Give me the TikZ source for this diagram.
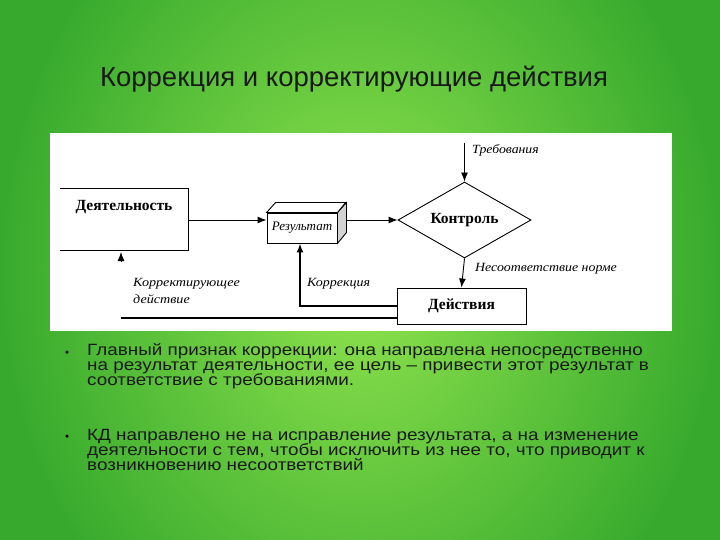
\documentclass[tikz,border=0pt]{standalone}
\usepackage{fontspec}
\usepackage{graphicx}
\setmainfont{Liberation Serif}
\newfontfamily\arialf{Liberation Sans}
\usetikzlibrary{arrows.meta,shapes.geometric,calc}
\definecolor{bgin}{RGB}{145,228,78}
\definecolor{bgout}{RGB}{55,170,45}
\begin{document}
\begin{tikzpicture}[x=1pt,y=-1pt,
  arr/.style={-{Latex[length=9pt,width=7pt]}, line width=0.9pt},
  ln/.style={line width=0.9pt},
  lbl/.style={font=\itshape\fontsize{12.5}{12.5}\selectfont, inner sep=0pt, anchor=base west},
  boldtxt/.style={font=\bfseries\fontsize{15.5}{15.5}\selectfont, inner sep=0pt},
  bul/.style={font=\arialf\fontsize{16.3}{16.3}\selectfont, anchor=base west, inner sep=0pt, text=black!90},
  dot/.style={circle, fill=black, inner sep=0pt, minimum size=3.5pt}]
\useasboundingbox (0,0) rectangle (720,540);
\begin{scope}
\clip (0,0) rectangle (720,540);
\shade[inner color=bgin, outer color=bgout] (0,-170) rectangle (720,710);
\end{scope}
\fill[white] (50,133) rectangle (672,331);

% title
\node[font=\arialf\fontsize{27.5}{27.5}\selectfont, anchor=base, inner sep=0pt, text=black!90] (title) at (354,87) {Коррекция и корректирующие действия};

% Деятельность
\node[minimum width=128pt, minimum height=61pt, inner sep=0pt] (act) at (124,219.5) {};
\draw[ln] (act.north west) -- (act.north east) -- (act.south east) -- (act.south west);
\node[boldtxt] (acttxt) at (124,207) {Деятельность};

% Результат
\node[draw, line width=0.9pt, minimum width=70pt, minimum height=30pt, inner sep=0pt, font=\itshape\fontsize{13}{13}\selectfont] (res) at (302,228) {Результат};
\draw[ln, fill=gray!35] (res.north east) -- ++(9,-10) -- ++(0,30) -- (res.south east) -- cycle;
\draw[ln, fill=white] (res.north west) -- ++(9,-10) -- ++(70,0) -- (res.north east) -- cycle;

% Контроль
\node[diamond, draw, line width=0.9pt, aspect=1.75, minimum width=133pt, minimum height=76pt, inner sep=0pt, boldtxt] (ctrl) at (464.5,220) {Контроль};

% Действия
\node[draw, line width=0.9pt, minimum width=129pt, minimum height=36pt, inner sep=0pt, boldtxt] (dej) at (461.5,306) {Действия};

% connectors
\draw[arr] (act.east |- ctrl.west) -- (res.west |- ctrl.west);
\draw[arr] ($(res.east |- ctrl.west)+(9,0)$) -- (ctrl.west);
\coordinate (req) at (464.5,143);
\draw[arr] (req) -- (ctrl.north);
\draw[arr] (ctrl.south) -- (dej.north);
\coordinate (kc) at (300,306);
\draw[-{Latex[length=9pt,width=7pt]}, line width=1.6pt] (dej.west) -- (kc) -- (kc |- res.south);
\coordinate (bl) at (121,318);
\draw[line width=1.3pt] (dej.west |- bl) -- (bl);
\coordinate (ahb) at (121,262);
\coordinate (aht) at (121,252);
\draw[-{Latex[length=9pt,width=7pt]}, line width=0.9pt] (ahb) -- (aht);

% labels
\node[lbl] (lreq) at (472,154) {\scalebox{1.1}[1]{Требования}};
\node[lbl] (lnes) at (475,271) {\scalebox{1.11}[1]{Несоответствие норме}};
\node[lbl] (lkor) at (307,286) {\scalebox{1.12}[1]{Коррекция}};
\node[lbl] (lkd1) at (133,286) {\scalebox{1.13}[1]{Корректирующее}};
\node[lbl] (lkd2) at (133,303) {\scalebox{1.13}[1]{действие}};

% bullets
\node[dot] (d1) at (67,352) {};
\node[bul] (b11) at (87,355) {\scalebox{1.157}[1]{Главный признак коррекции: она направлена непосредственно}};
\node[bul] (b12) at (87,370) {\scalebox{1.157}[1]{на результат деятельности, ее цель – привести этот результат в}};
\node[bul] (b13) at (87,385) {\scalebox{1.157}[1]{соответствие с требованиями.}};
\node[dot] (d2) at (67,436) {};
\node[bul] (b21) at (87,440) {\scalebox{1.157}[1]{КД направлено не на исправление результата, а на изменение}};
\node[bul] (b22) at (87,455) {\scalebox{1.157}[1]{деятельности с тем, чтобы исключить из нее то, что приводит к}};
\node[bul] (b23) at (87,470) {\scalebox{1.157}[1]{возникновению несоответствий}};
\end{tikzpicture}
\end{document}
